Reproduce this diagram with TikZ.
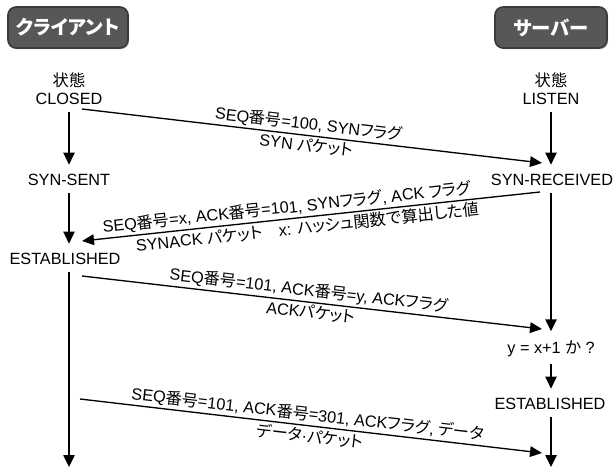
\documentclass[tikz,border=0pt]{standalone}
\usepackage{fontspec}
\setmainfont{Liberation Sans}
\newfontfamily\jpf{Noto Sans CJK JP}[RawFeature={+palt}]
\newcommand\jp[1]{{\jpf #1}}
\usetikzlibrary{arrows.meta,shadows}
\definecolor{boxfill}{HTML}{575757}
\definecolor{boxedge}{HTML}{3A3A3A}
\begin{document}
\begin{tikzpicture}[x=0.75pt,y=-0.75pt,
  lbl/.style={font=\fontsize{12.2}{13.5}\selectfont, inner sep=1pt},
  statebox/.style={lbl, align=center},
  titlebox/.style={draw=boxedge, line width=1.2pt, fill=boxfill, rounded corners=6pt,
    text=white, font=\fontsize{14.5}{16}\selectfont\bfseries, minimum height=30.75pt,
    drop shadow={shadow xshift=0.8pt, shadow yshift=-0.8pt, fill=black!60}},
  vflow/.style={-{Triangle[length=9pt,width=8.5pt]}, line width=1.1pt, shorten <=4pt, shorten >=6pt},
  msg/.style={-{Triangle[length=9pt,width=8pt]}, line width=1pt},
  msgrev/.style={{Triangle[length=9pt,width=8pt]}-, line width=1pt},
  mlab/.style={lbl, sloped, inner sep=1.5pt}]
\useasboundingbox (0,0) rectangle (614,470);

% title boxes
\node[titlebox, minimum width=90pt] (client) at (68,27.5) {\jp{クライアント}};
\node[titlebox, minimum width=84pt] (server) at (551,27.5) {\jp{サーバー}};

% client states
\node[statebox] (lclosed) at (69,89) {\jp{状態}\\CLOSED};
\node[lbl] (lsynsent) at (69,180) {SYN-SENT};
\node[lbl] (lest) at (65,259) {ESTABLISHED};
\coordinate (lend) at (69,467);

% server states
\node[statebox] (rlisten) at (551,89) {\jp{状態}\\LISTEN};
\node[lbl] (rsynrec) at (552,180) {SYN-RECEIVED};
\node[lbl] (rcheck) at (551,349) {y = x+1 \jp{か} ?};
\node[lbl] (rest) at (550,404) {ESTABLISHED};
\coordinate (rend) at (551,467);

% vertical flows
\draw[vflow] (lclosed.south) -- (lclosed.south |- lsynsent.north);
\draw[vflow] (lsynsent.south) -- (lsynsent.south |- lest.north);
\draw[vflow, shorten >=0pt] (lsynsent.south |- lest.south) -- (lend);
\draw[vflow] (rlisten.south) -- (rlisten.south |- rsynrec.north);
\draw[vflow] (rlisten.south |- rsynrec.south) -- (rlisten.south |- rcheck.north);
\draw[vflow] (rlisten.south |- rcheck.south) -- (rlisten.south |- rest.north);
\draw[vflow, shorten >=0pt] (rlisten.south |- rest.south) -- (rend);

% messages
\coordinate (m1s) at (82,109);  \coordinate (m1e) at (542,163);
\coordinate (m2s) at (540,192); \coordinate (m2e) at (82,241);
\coordinate (m3s) at (82,276);  \coordinate (m3e) at (542,329);
\coordinate (m4s) at (80,399);  \coordinate (m4e) at (542,453);

\draw[msg] (m1s) -- node[mlab, above, pos=0.49] {SEQ\jp{番号}=100, SYN\jp{フラグ}}
  node[mlab, below, pos=0.49] {SYN \jp{パケット}} (m1e);
\draw[msgrev] (m2e) -- node[mlab, above, pos=0.45] {SEQ\jp{番号}=x, ACK\jp{番号}=101, SYN\jp{フラグ}, ACK \jp{フラグ}}
  node[mlab, below, pos=0.49] {SYNACK \jp{パケット}\hspace{1em}x: \jp{ハッシュ関数で算出した値}} (m2s);
\draw[msg] (m3s) -- node[mlab, above, pos=0.49] {SEQ\jp{番号}=101, ACK\jp{番号}=y, ACK\jp{フラグ}}
  node[mlab, below, pos=0.5] {ACK\jp{パケット}} (m3e);
\draw[msg] (m4s) -- node[mlab, above, pos=0.49] {SEQ\jp{番号}=101, ACK\jp{番号}=301, ACK\jp{フラグ}, \jp{データ}}
  node[mlab, below, pos=0.5] {\jp{データ}·\jp{パケット}} (m4e);
\end{tikzpicture}
\end{document}
